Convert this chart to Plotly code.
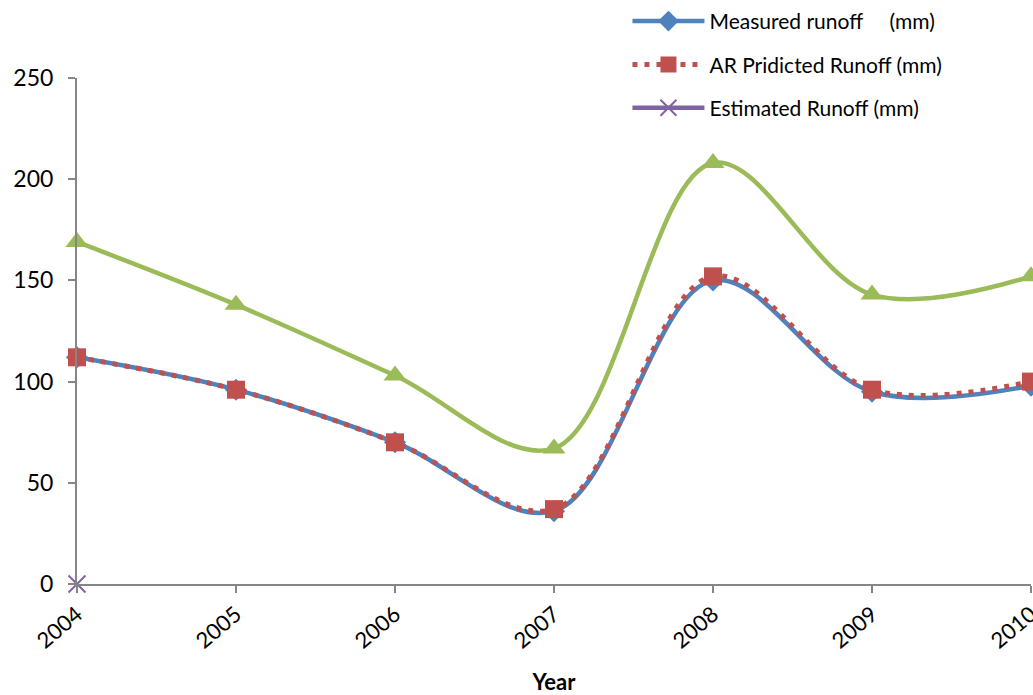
import plotly.graph_objects as go

years = ["2004", "2005", "2006", "2007", "2008", "2009", "2010"]
measured = [112, 96, 70, 36, 150, 95, 98]
ar_predicted = [112, 96, 70, 37, 152, 96, 100]
model_runoff = [169, 138, 103, 67, 208, 143, 152]
estimated_years = ["2004"]
estimated = [0]

FONT = "Lato"

fig = go.Figure()

fig.add_trace(go.Scatter(
    x=years, y=model_runoff, name="Runoff (mm)", showlegend=False, legendgroup="g0",
    mode="lines+markers", line=dict(color="#9BBB59", width=4.5, shape="spline", smoothing=1),
    marker=dict(symbol="triangle-up", size=20, color="#9BBB59"), cliponaxis=False,
))
fig.add_trace(go.Scatter(
    x=years, y=measured, name="Measured runoff     (mm)", legendgroup="g1",
    mode="lines+markers", line=dict(color="#4F81BD", width=4.5, shape="spline", smoothing=1),
    marker=dict(symbol="diamond", size=17, color="#4F81BD"), cliponaxis=False,
))
fig.add_trace(go.Scatter(
    x=years, y=ar_predicted, name="AR Pridicted Runoff (mm)", legendgroup="g2",
    mode="lines+markers", line=dict(color="#C0504D", width=5, dash="5px,7px", shape="spline", smoothing=1),
    marker=dict(symbol="square", size=18, color="#C0504D"), cliponaxis=False,
))
fig.add_trace(go.Scatter(
    x=estimated_years, y=estimated, name="Estimated Runoff (mm)", legendgroup="g3",
    mode="lines+markers", line=dict(color="#8064A2", width=4.5),
    marker=dict(symbol="x-thin", size=17, line=dict(color="#8064A2", width=2)), cliponaxis=False,
))

fig.update_layout(
    width=1033, height=695,
    margin=dict(l=77, r=2, t=77, b=111),
    paper_bgcolor="white", plot_bgcolor="white",
    font=dict(family=FONT, size=22, color="black"),
    showlegend=True,
    legend=dict(
        x=0.577, y=1.15, xanchor="left", yanchor="top",
        bgcolor="rgba(0,0,0,0)", font=dict(size=21), itemwidth=72,
        traceorder="grouped", tracegroupgap=13,
    ),
    xaxis=dict(
        type="category", range=[0, 6], showgrid=False, automargin=False,
        showline=True, linecolor="#868686", linewidth=2,
        ticks="outside", ticklen=7, tickcolor="#868686", tickwidth=2,
        tickangle=-40, tickfont=dict(size=22),
        title=dict(text="<b>Year</b>", font=dict(size=22), standoff=28),
        zeroline=False,
    ),
    yaxis=dict(
        range=[0, 250], tickvals=[0, 50, 100, 150, 200, 250], showgrid=False,
        automargin=False,
        showline=True, linecolor="#868686", linewidth=2,
        ticks="outside", ticklen=7, tickcolor="#868686", tickwidth=2,
        tickfont=dict(size=23), ticklabelstandoff=10, zeroline=False,
    ),
)

fig.write_html("out.html")
